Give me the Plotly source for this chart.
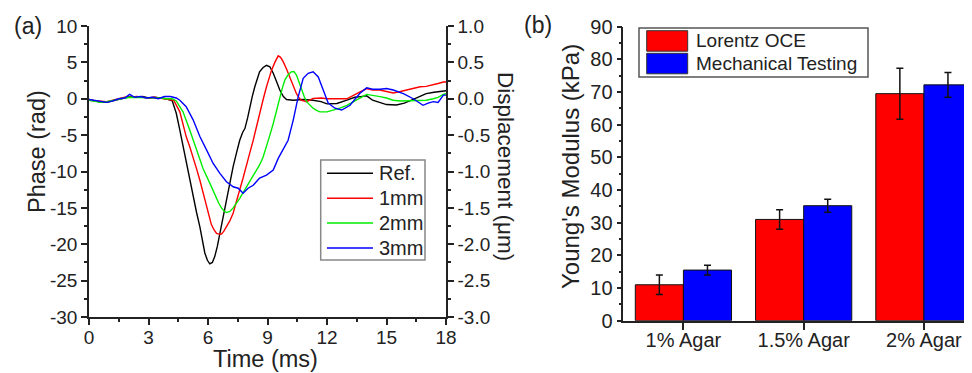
import plotly.graph_objects as go

W, H = 972, 373
OFF = 8  # default page body margin around the plot div

# ---------------- data: panel (a) ----------------
t_ref = [0,0.3,0.6,0.9,1.2,1.5,1.8,2.1,2.4,2.7,3.0,3.3,3.6,3.9,4.2,4.4,4.58,4.75,4.9,5.08,5.25,5.42,5.59,5.72,5.84,5.97,6.09,6.22,6.34,6.47,6.6,6.76,6.93,7.1,7.27,7.44,7.6,7.75,7.86,8.0,8.1,8.23,8.36,8.48,8.6,8.78,8.95,9.12,9.29,9.45,9.62,9.8,9.96,10.3,10.8,11.3,11.7,12.0,12.5,13.0,13.4,13.7,14.0,14.3,14.7,15.0,15.5,15.9,16.35,16.7,17.0,17.4,17.9,18.0]
ph_ref = [-0.1,-0.3,-0.5,-0.5,-0.3,-0.1,0.1,0.3,0.2,0.3,0.1,0.2,0.1,0.0,-0.3,-2.0,-4.3,-6.6,-8.9,-11.2,-13.5,-15.6,-17.6,-19.5,-21.2,-22.2,-22.7,-22.5,-21.7,-20.3,-18.5,-16.0,-13.5,-11.3,-9.3,-7.4,-5.7,-4.6,-4.1,-2.6,-1.1,0.3,1.65,2.8,3.7,4.3,4.6,4.4,3.5,2.4,1.2,0.3,-0.1,-0.2,-0.1,-0.2,-0.4,-0.7,-0.65,-0.2,0.2,0.3,0.4,-0.2,-0.6,-0.8,-0.85,-0.6,-0.1,0.3,0.7,0.9,1.1,1.1]

t_1mm = [0,0.3,0.6,0.9,1.2,1.5,1.8,2.1,2.4,2.7,3.0,3.3,3.6,3.9,4.27,4.58,4.9,5.08,5.25,5.42,5.59,5.75,5.92,6.05,6.17,6.3,6.43,6.55,6.68,6.8,6.93,7.1,7.27,7.44,7.6,7.77,7.94,8.1,8.28,8.44,8.6,8.78,8.95,9.07,9.2,9.37,9.54,9.66,9.79,9.96,10.13,10.3,10.46,10.6,10.7,10.97,11.3,11.7,12.0,12.5,13.0,13.5,14.0,14.3,14.67,15.0,15.34,15.7,16.0,16.4,16.7,17.0,17.36,17.6,17.87,18.0]
ph_1mm = [-0.2,-0.3,-0.4,-0.4,-0.2,0.0,0.2,0.2,0.3,0.2,0.1,0.2,0.1,0.0,-0.2,-1.8,-5.2,-6.6,-8.0,-9.6,-11.2,-13.0,-14.8,-16.2,-17.3,-18.0,-18.5,-18.6,-18.6,-18.2,-17.6,-16.8,-15.7,-14.2,-12.5,-10.9,-9.3,-7.5,-5.7,-3.8,-2.0,-0.1,1.65,2.9,3.9,5.0,5.9,5.7,5.1,4.1,3.0,1.8,0.7,0.1,-0.2,-0.4,0.05,0.1,0.0,0.0,0.0,0.7,1.4,1.2,1.2,1.0,0.8,1.0,1.2,1.4,1.65,1.7,1.9,2.1,2.3,2.3]

t_2mm = [0,0.3,0.6,0.9,1.2,1.5,1.8,2.1,2.4,2.7,3.0,3.3,3.6,3.9,4.2,4.4,4.74,5.08,5.42,5.75,6.09,6.26,6.43,6.55,6.68,6.8,6.93,7.1,7.27,7.44,7.6,7.77,7.94,8.1,8.28,8.44,8.6,8.78,8.95,9.12,9.29,9.45,9.62,9.75,9.88,10.04,10.2,10.33,10.46,10.58,10.7,10.85,10.97,11.14,11.3,11.47,11.64,12.0,12.3,12.65,13.0,13.3,13.66,14.0,14.3,14.67,15.0,15.34,15.7,16.0,16.35,16.7,17.0,17.36,17.6,17.87,18.0]
ph_2mm = [-0.2,-0.3,-0.5,-0.4,-0.2,0.0,0.1,0.2,0.2,0.1,0.2,0.1,0.1,0.0,0.0,-0.3,-1.8,-4.3,-7.0,-9.6,-11.6,-12.7,-13.7,-14.4,-15.0,-15.4,-15.65,-15.5,-15.0,-14.4,-13.7,-12.9,-12.1,-11.4,-10.7,-9.9,-9.1,-8.0,-6.6,-5.0,-3.4,-1.6,0.3,1.5,2.6,3.3,3.7,3.75,3.25,2.3,1.2,0.3,-0.4,-0.9,-1.3,-1.6,-1.8,-1.8,-1.6,-1.3,-0.9,-0.4,0.1,0.6,0.5,0.3,0.1,-0.2,-0.3,-0.3,-0.3,-0.3,-0.2,0.0,0.2,0.6,0.7]

t_3mm = [0,0.3,0.6,0.9,1.2,1.5,1.8,2.05,2.3,2.6,2.9,3.2,3.5,3.8,4.1,4.4,4.58,4.9,5.25,5.59,5.92,6.26,6.6,6.93,7.27,7.52,7.77,7.9,8.02,8.28,8.6,8.95,9.29,9.54,9.79,10.04,10.3,10.55,10.8,11.05,11.3,11.56,11.81,12.06,12.4,12.74,13.16,13.66,14.0,14.3,14.67,15.0,15.34,15.85,16.35,16.6,16.84,17.1,17.36,17.6,17.87,18.0]
ph_3mm = [-0.1,-0.2,-0.4,-0.5,-0.3,0.0,0.1,0.6,0.2,0.3,0.1,0.2,0.0,0.3,0.3,0.1,-0.2,-1.1,-2.9,-5.2,-7.0,-8.9,-10.25,-11.4,-12.1,-12.3,-13.0,-12.6,-12.3,-11.9,-10.9,-10.5,-9.8,-8.2,-7.0,-5.7,-2.9,0.3,2.8,3.5,3.7,3.0,1.2,-0.6,-1.3,-1.55,-0.9,0.75,1.5,1.3,1.3,1.4,1.2,0.7,0.0,-0.5,-0.9,-0.6,-0.4,-0.5,0.5,0.5]

curve_names = ["Ref.", "1mm", "2mm", "3mm"]
curve_colors = ["#000000", "#FF0000", "#00EE00", "#0000FF"]

# tick labels (hyphen minus, as in the reference)
phase_ticks = [10, 5, 0, -5, -10, -15, -20, -25, -30]
phase_ticktext = ["10", "5", "0", "-5", "-10", "-15", "-20", "-25", "-30"]
disp_ticks = [1.0, 0.5, 0.0, -0.5, -1.0, -1.5, -2.0, -2.5, -3.0]
disp_ticktext = ["1.0", "0.5", "0.0", "-0.5", "-1.0", "-1.5", "-2.0", "-2.5", "-3.0"]
time_ticks = [0, 3, 6, 9, 12, 15, 18]

# ---------------- data: panel (b) ----------------
categories = ["1% Agar", "1.5% Agar", "2% Agar"]
oce_vals = [11.0, 31.0, 69.5]
oce_err = [3.0, 3.0, 7.8]
mech_vals = [15.5, 35.2, 72.2]
mech_err = [1.5, 2.0, 3.8]
bar_names = ["Lorentz OCE", "Mechanical Testing"]
bar_colors = ["#FF0000", "#0000FF"]
modulus_ticks = [0, 10, 20, 30, 40, 50, 60, 70, 80, 90]

FONT = "Liberation Sans, Arial, sans-serif"
TXT = "#222222"
AX = "#222222"


def px(x):
    return (x - OFF) / W


def py(y):
    return (H - (y - OFF)) / H


fig = go.Figure()

for t, ph, name, col in zip([t_ref, t_1mm, t_2mm, t_3mm],
                            [ph_ref, ph_1mm, ph_2mm, ph_3mm],
                            curve_names, curve_colors):
    fig.add_trace(go.Scatter(x=t, y=ph, mode="lines", name=name,
                             line=dict(color=col, width=1.4),
                             xaxis="x", yaxis="y", showlegend=False))

# empty trace to anchor the right-hand displacement axis
fig.add_trace(go.Scatter(x=[None], y=[None], xaxis="x", yaxis="y2",
                         showlegend=False, hoverinfo="skip"))

for vals, errs, name, col in zip([oce_vals, mech_vals], [oce_err, mech_err],
                                 bar_names, bar_colors):
    fig.add_trace(go.Bar(x=categories, y=vals, name=name,
                         marker=dict(color=col, line=dict(color="#111111", width=1)),
                         error_y=dict(type="data", array=errs, color="#111111",
                                      thickness=1.5, width=3.5),
                         xaxis="x3", yaxis="y3", showlegend=False))

tickfont_a = dict(family=FONT, size=19, color=TXT)
tickfont_b = dict(family=FONT, size=20, color=TXT)
common = dict(showgrid=False, zeroline=False, showline=True, linecolor=AX,
              linewidth=1.5, ticks="outside", tickcolor=AX, tickwidth=1.5,
              automargin=False)

fig.update_layout(
    template="none",
    width=W, height=H,
    margin=dict(l=0, r=0, t=0, b=0, autoexpand=False),
    paper_bgcolor="white", plot_bgcolor="white",
    showlegend=False,
    barmode="group", bargap=0.2, bargroupgap=0.0,
    xaxis=dict(domain=[px(89), px(446)], range=[0, 18],
               tickmode="array", tickvals=time_ticks,
               ticklen=6, ticklabelstandoff=-4, anchor="y", tickfont=tickfont_a,
               minor=dict(dtick=1.5, tick0=0, ticks="outside", ticklen=3, tickcolor=AX),
               **common),
    yaxis=dict(domain=[py(317), py(26)], range=[-30, 10],
               tickmode="array", tickvals=phase_ticks, ticktext=phase_ticktext,
               ticklen=6, anchor="x", tickfont=tickfont_a,
               minor=dict(dtick=2.5, tick0=0, ticks="outside", ticklen=3, tickcolor=AX),
               **common),
    yaxis2=dict(overlaying="y", side="right", anchor="x", range=[-3, 1],
                tickmode="array", tickvals=disp_ticks, ticktext=disp_ticktext,
                ticklen=6, tickfont=tickfont_a,
                minor=dict(dtick=0.25, tick0=0, ticks="outside", ticklen=3, tickcolor=AX),
                **common),
    xaxis3=dict(domain=[px(623.3), px(972)], range=[-0.5, 2.4], anchor="y3",
                ticklen=8, ticklabelstandoff=-7, tickfont=tickfont_b,
                type="category", **common),
    yaxis3=dict(domain=[py(320.7), py(26.7)], range=[0, 90],
                tickmode="array", tickvals=modulus_ticks,
                ticklen=5, anchor="x3", tickfont=tickfont_b,
                minor=dict(dtick=5, tick0=0, ticks="outside", ticklen=3, tickcolor=AX),
                **common),
)

shapes = []
annotations = []


def ann(text, x, y, size, angle=0, xanchor="center", yanchor="middle"):
    annotations.append(dict(text=text, x=px(x), y=py(y), xref="paper", yref="paper",
                            showarrow=False, textangle=angle, xanchor=xanchor,
                            yanchor=yanchor,
                            font=dict(family=FONT, size=size, color=TXT)))


# panel labels and axis titles
ann("(a)", 28, 26, 23)
ann("(b)", 538, 25, 23)
ann("Phase (rad)", 36.5, 151.5, 23.5, angle=-90)
ann("Time (ms)", 265, 359, 23.5)
ann("Displacement (\u03bcm)", 505, 166, 22.5, angle=90)
ann("Young's Modulus (kPa)", 571, 167, 24, angle=-90)

# legend (a)
shapes.append(dict(type="rect", xref="paper", yref="paper",
                   x0=px(320.7), x1=px(425), y0=py(260), y1=py(160),
                   line=dict(color="#888888", width=1.5), fillcolor="white", layer="above"))
for i, (name, col) in enumerate(zip(curve_names, curve_colors)):
    yy = 173.3 + i * 24.9
    shapes.append(dict(type="line", xref="paper", yref="paper",
                       x0=px(327), x1=px(373), y0=py(yy), y1=py(yy),
                       line=dict(color=col, width=1.5)))
    ann(name, 377, yy, 20, xanchor="left")

# legend (b)
shapes.append(dict(type="rect", xref="paper", yref="paper",
                   x0=px(639), x1=px(868), y0=py(77), y1=py(28),
                   line=dict(color="#555555", width=1.5), fillcolor="white"))
for i, (name, col) in enumerate(zip(bar_names, bar_colors)):
    y0 = 30.7 + i * 22.6
    shapes.append(dict(type="rect", xref="paper", yref="paper",
                       x0=px(646.7), x1=px(687.7), y0=py(y0 + 20.5), y1=py(y0),
                       line=dict(color="#333333", width=1), fillcolor=col))
    ann(name, 694, y0 + 10.3, 19, xanchor="left")

fig.update_layout(shapes=shapes, annotations=annotations)

fig.write_html("out.html")
